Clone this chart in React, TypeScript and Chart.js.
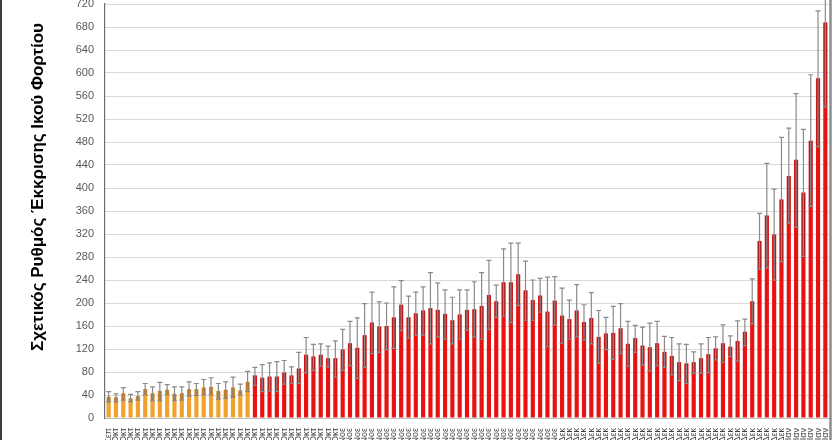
import React, { useEffect, useRef } from 'react';
import { Chart, registerables } from 'chart.js';

Chart.register(...registerables);

const categories = [
  '30-Σεπ',
  '1-Οκτ', '2-Οκτ', '3-Οκτ', '4-Οκτ', '5-Οκτ', '6-Οκτ', '7-Οκτ', '8-Οκτ', '9-Οκτ', '10-Οκτ',
  '11-Οκτ', '12-Οκτ', '13-Οκτ', '14-Οκτ', '15-Οκτ', '16-Οκτ', '17-Οκτ', '18-Οκτ', '19-Οκτ', '20-Οκτ',
  '21-Οκτ', '22-Οκτ', '23-Οκτ', '24-Οκτ', '25-Οκτ', '26-Οκτ', '27-Οκτ', '28-Οκτ', '29-Οκτ', '30-Οκτ', '31-Οκτ',
  '1-Νοε', '2-Νοε', '3-Νοε', '4-Νοε', '5-Νοε', '6-Νοε', '7-Νοε', '8-Νοε', '9-Νοε', '10-Νοε',
  '11-Νοε', '12-Νοε', '13-Νοε', '14-Νοε', '15-Νοε', '16-Νοε', '17-Νοε', '18-Νοε', '19-Νοε', '20-Νοε',
  '21-Νοε', '22-Νοε', '23-Νοε', '24-Νοε', '25-Νοε', '26-Νοε', '27-Νοε', '28-Νοε', '29-Νοε', '30-Νοε',
  '1-Δεκ', '2-Δεκ', '3-Δεκ', '4-Δεκ', '5-Δεκ', '6-Δεκ', '7-Δεκ', '8-Δεκ', '9-Δεκ', '10-Δεκ',
  '11-Δεκ', '12-Δεκ', '13-Δεκ', '14-Δεκ', '15-Δεκ', '16-Δεκ', '17-Δεκ', '18-Δεκ', '19-Δεκ', '20-Δεκ',
  '21-Δεκ', '22-Δεκ', '23-Δεκ', '24-Δεκ', '25-Δεκ', '26-Δεκ', '27-Δεκ', '28-Δεκ', '29-Δεκ', '30-Δεκ', '31-Δεκ',
  '1-Ιαν', '2-Ιαν', '3-Ιαν', '4-Ιαν', '5-Ιαν', '6-Ιαν',
];

const values = [
  37, 36, 43, 34, 38, 50, 43, 47, 49, 42,
  43, 50, 50, 53, 54, 47, 49, 53, 48, 63,
  74, 70, 72, 72, 79, 74, 86, 110, 107, 110,
  104, 104, 119, 130, 122, 144, 166, 159, 160, 175,
  197, 175, 182, 187, 191, 188, 181, 170, 180, 188,
  189, 195, 214, 203, 236, 236, 250, 222, 205, 213,
  185, 204, 178, 172, 187, 167, 174, 141, 147, 148,
  156, 129, 139, 126, 123, 130, 115, 108, 97, 95,
  97, 104, 111, 121, 130, 124, 134, 150, 203, 308,
  352, 319, 380, 421, 449, 392, 482, 591, 688,
];

const upperValues = [
  46, 42, 53, 41, 46, 60, 54, 62, 58, 54,
  54, 63, 60, 67, 70, 60, 63, 71, 59, 81,
  88, 93, 96, 98, 100, 89, 114, 140, 128, 129,
  125, 134, 154, 168, 174, 199, 219, 202, 200, 228,
  239, 212, 219, 228, 253, 235, 223, 210, 223, 223,
  237, 253, 274, 231, 294, 304, 304, 273, 240, 243,
  245, 246, 226, 205, 232, 197, 218, 187, 175, 194,
  199, 168, 161, 158, 165, 168, 142, 140, 129, 128,
  115, 129, 140, 141, 162, 143, 169, 172, 242, 356,
  443, 398, 488, 504, 564, 502, 597, 708, 835,
];

const lowerValues = [
  28, 28, 31, 28, 31, 40, 30, 30, 40, 30,
  31, 38, 39, 40, 40, 33, 34, 36, 40, 46,
  57, 46, 47, 46, 59, 60, 60, 79, 83, 90,
  89, 71, 83, 91, 69, 88, 112, 114, 119, 121,
  152, 139, 144, 144, 129, 141, 137, 129, 137, 153,
  141, 137, 154, 175, 177, 166, 196, 170, 170, 184,
  124, 162, 130, 137, 141, 136, 129, 95, 119, 102,
  112, 90, 114, 92, 82, 91, 88, 75, 65, 60,
  78, 78, 79, 101, 97, 107, 99, 126, 164, 259,
  261, 240, 272, 339, 332, 281, 368, 472, 541,
];

const earlyPhaseCount = 20;
const yAxisTitle = 'Σχετικός Ρυθμός Έκκρισης Ικού Φορτίου';
const yMin = 0;
const yMax = 720;
const yStep = 40;

const ORANGE = '#F2A22C';
const RED = '#E81212';

const CANVAS_W = 840;
const CANVAS_H = 500;
const OFFSET_TOP = 30;

const decorPlugin = {
  id: 'decor',
  afterDatasetsDraw(chart: any) {
    const ctx = chart.ctx;
    const meta = chart.getDatasetMeta(0);
    const yScale = chart.scales.y;
    ctx.save();
    meta.data.forEach((bar: any, i: number) => {
      const x = bar.x;
      const yTop = yScale.getPixelForValue(upperValues[i]);
      const yBot = yScale.getPixelForValue(lowerValues[i]);
      const yVal = yScale.getPixelForValue(values[i]);
      ctx.fillStyle = 'rgba(90,40,40,0.35)';
      ctx.fillRect(x - 1.6, yVal, 3.2, yBot - yVal);
      ctx.strokeStyle = '#8a8a8a';
      ctx.lineWidth = 1.2;
      ctx.beginPath();
      ctx.moveTo(x, yTop);
      ctx.lineTo(x, yBot);
      ctx.moveTo(x - 2.5, yTop);
      ctx.lineTo(x + 2.5, yTop);
      ctx.moveTo(x - 2.5, yBot);
      ctx.lineTo(x + 2.5, yBot);
      ctx.stroke();
    });
    ctx.restore();
  },
  afterDraw(chart: any) {
    const ctx = chart.ctx;
    const area = chart.chartArea;
    ctx.save();
    ctx.translate(38, (area.top + area.bottom) / 2 - 24);
    ctx.rotate(-Math.PI / 2);
    ctx.fillStyle = '#000000';
    ctx.font = 'bold 17px "Liberation Sans", sans-serif';
    ctx.textAlign = 'center';
    ctx.textBaseline = 'middle';
    ctx.fillText(yAxisTitle, 0, 0);
    ctx.restore();
    ctx.save();
    ctx.strokeStyle = '#3c3c3c';
    ctx.lineWidth = 2;
    ctx.beginPath();
    ctx.moveTo(1, 0);
    ctx.lineTo(1, CANVAS_H);
    ctx.stroke();
    ctx.strokeStyle = '#8c8c8c';
    ctx.lineWidth = 2.5;
    ctx.beginPath();
    ctx.moveTo(830.5, 0);
    ctx.lineTo(830.5, CANVAS_H);
    ctx.stroke();
    ctx.restore();
  },
};

export default function App() {
  const canvasRef = useRef<HTMLCanvasElement | null>(null);

  useEffect(() => {
    if (!canvasRef.current) return;
    const chart = new Chart(canvasRef.current, {
      type: 'bar',
      data: {
        labels: categories,
        datasets: [
          {
            data: values,
            backgroundColor: values.map((_, i) => (i < earlyPhaseCount ? ORANGE : RED)),
            borderWidth: 0,
            barPercentage: 0.57,
            categoryPercentage: 1,
          },
        ],
      },
      options: {
        responsive: false,
        animation: false,
        layout: { padding: { top: OFFSET_TOP + 4, right: 11, left: 0, bottom: 0 } },
        plugins: {
          legend: { display: false },
          tooltip: { enabled: false },
        },
        scales: {
          x: {
            grid: { display: false },
            border: { color: '#bfbfbf', width: 1 },
            ticks: {
              autoSkip: false,
              maxRotation: 90,
              minRotation: 90,
              padding: 2,
              color: '#404040',
              font: { family: '"Liberation Sans", sans-serif', size: 9 },
            },
            afterFit(scale: any) {
              scale.height = CANVAS_H - (OFFSET_TOP + 418);
            },
          },
          y: {
            min: yMin,
            max: yMax,
            ticks: {
              stepSize: yStep,
              padding: 11,
              color: '#595959',
              font: { family: '"Liberation Sans", sans-serif', size: 11 },
            },
            grid: { color: '#d9d9d9', drawTicks: false, lineWidth: 1 },
            border: { color: '#6e6e6e', width: 1.2 },
            afterFit(scale: any) {
              scale.width = 105;
            },
          },
        },
      },
      plugins: [decorPlugin],
    });
    return () => chart.destroy();
  }, []);

  return (
    <div
      style={{
        position: 'fixed',
        left: 0,
        top: 0,
        width: 840,
        height: 440,
        overflow: 'hidden',
        background: '#ffffff',
      }}
    >
      <canvas
        ref={canvasRef}
        width={CANVAS_W}
        height={CANVAS_H}
        style={{ position: 'absolute', left: 0, top: -OFFSET_TOP, width: CANVAS_W, height: CANVAS_H }}
      />
    </div>
  );
}
